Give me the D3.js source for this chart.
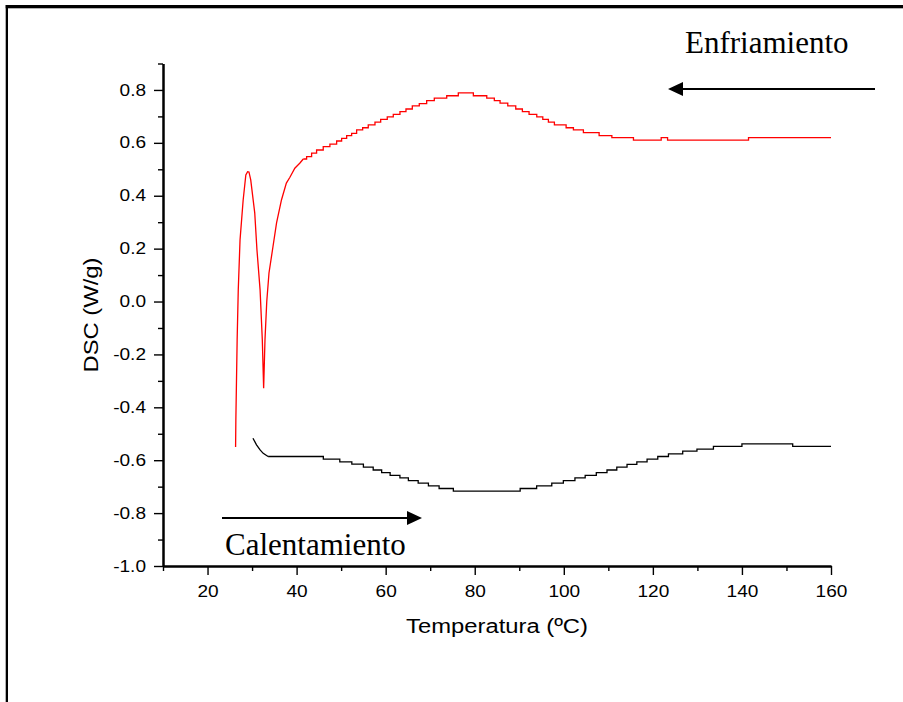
<!DOCTYPE html>
<html>
<head>
<meta charset="utf-8">
<script src="https://cdn.jsdelivr.net/npm/d3@7"></script>
<style>
  body { margin: 0; background: #fff; }
  svg { display: block; }
</style>
</head>
<body>
<svg id="canvas" width="903" height="702"></svg>
<script>
// tick values
let xTicks = [20, 40, 60, 80, 100, 120, 140, 160]
let xMinor = [10, 30, 50, 70, 90, 110, 130, 150]
let yTicks = [-1.0, -0.8, -0.6, -0.4, -0.2, 0.0, 0.2, 0.4, 0.6, 0.8]
let yMinor = [-0.9, -0.7, -0.5, -0.3, -0.1, 0.1, 0.3, 0.5, 0.7, 0.9]

// enfriamiento (red) - smooth part of the peak, [T, W/g]
let coolPeak = [
  [26.3, -0.55], [26.36, -0.448], [26.65, -0.145], [26.9, 0.044], [27.3, 0.233],
  [28.0, 0.384], [28.6, 0.479], [29.0, 0.491], [29.3, 0.49], [29.7, 0.46],
  [30.6, 0.335], [31.1, 0.195], [31.8, 0.044], [32.3, -0.145], [32.6, -0.328],
  [32.9, -0.145], [33.3, 0.0], [33.8, 0.108], [34.7, 0.208], [35.5, 0.297],
  [36.6, 0.384], [37.7, 0.448], [38.5, 0.47], [39.6, 0.504], [40.7, 0.523],
  [41.5, 0.539]
]
// enfriamiento (red) - stepped part
let coolSteps = [
  [41.5, 0.539], [42.25, 0.548], [43.37, 0.561], [44.49, 0.573], [45.98, 0.586],
  [47.48, 0.595], [48.99, 0.607], [50.11, 0.617], [51.24, 0.627], [52.36, 0.636],
  [53.48, 0.649], [54.83, 0.657], [56.09, 0.668], [57.6, 0.678], [58.88, 0.689],
  [60.36, 0.698], [61.71, 0.708], [63.21, 0.718], [64.56, 0.728], [65.98, 0.74],
  [67.55, 0.748], [69.21, 0.76], [70.92, 0.769], [73.71, 0.778], [76.31, 0.789],
  [79.69, 0.778], [82.7, 0.769], [84.4, 0.76], [85.69, 0.75], [87.42, 0.74],
  [89.21, 0.728], [90.7, 0.718], [92.2, 0.708], [93.93, 0.698], [95.28, 0.689],
  [96.54, 0.678], [97.89, 0.668], [100.52, 0.657], [102.16, 0.649], [104.4, 0.639],
  [107.93, 0.627], [110.79, 0.62], [115.64, 0.61], [121.87, 0.62], [123.3, 0.61],
  [141.48, 0.62], [160.0, 0.62]
]

// calentamiento (black) - start, then steps
let heatStart = [
  [30.2, -0.517], [31.0, -0.542], [31.8, -0.561], [32.5, -0.574], [33.6, -0.586]
]
let heatSteps = [
  [33.6, -0.586], [46.0, -0.596], [49.7, -0.606], [52.4, -0.615], [55.0, -0.626],
  [57.2, -0.637], [59.1, -0.647], [61.0, -0.657], [63.2, -0.667], [65.1, -0.677],
  [67.3, -0.687], [69.6, -0.697], [72.0, -0.707], [75.2, -0.717], [90.2, -0.707],
  [93.9, -0.697], [97.3, -0.687], [99.9, -0.677], [102.5, -0.667], [104.8, -0.657],
  [107.3, -0.647], [109.7, -0.637], [111.9, -0.626], [114.2, -0.616], [116.4, -0.606],
  [118.7, -0.596], [121.1, -0.586], [123.5, -0.576], [126.7, -0.566], [129.9, -0.558],
  [133.6, -0.548], [140.0, -0.538], [151.4, -0.548], [160.0, -0.548]
]

let canvas = d3.select("#canvas")

let xScale = d3.scaleLinear().domain([10, 160]).range([163, 831])
let yScale = d3.scaleLinear().domain([-1.0, 0.9]).range([566, 63.5])

// frame (top and left only)
canvas.append("rect").attr("x", 5.7).attr("y", 5).attr("width", 897.3).attr("height", 3.3).attr("fill", "#000")
canvas.append("rect").attr("x", 5.7).attr("y", 5).attr("width", 2.3).attr("height", 697).attr("fill", "#000")

let labelFont = "Arial, 'Liberation Sans', sans-serif"
let stretch = 1.19 // the sans text in the original is drawn wider than plain Arial

let xAxis = d3.axisBottom(xScale).tickValues(xTicks).tickSize(9).tickSizeOuter(0).tickPadding(11)
  .tickFormat(d => d)
let xAxisMinor = d3.axisBottom(xScale).tickValues(xMinor).tickSize(5).tickSizeOuter(0).tickFormat("")
let yAxis = d3.axisLeft(yScale).tickValues(yTicks).tickSize(9).tickSizeOuter(0).tickPadding(8)
  .tickFormat(d => d.toFixed(1))
let yAxisMinor = d3.axisLeft(yScale).tickValues(yMinor).tickSize(5).tickSizeOuter(0).tickFormat("")

let drawAxis = (axis, transform) => {
  let g = canvas.append("g").attr("transform", transform).call(axis)
  g.select(".domain").attr("stroke", "#000").attr("stroke-width", 2)
  g.selectAll(".tick line").attr("stroke", "#000").attr("stroke-width", 1.4)
  g.selectAll(".tick text")
    .attr("fill", "#000")
    .style("font-family", labelFont)
    .style("font-size", "16px")
    .each(function () {
      let t = d3.select(this)
      let tx = +t.attr("x") || 0
      t.attr("x", 0).attr("transform", `translate(${tx},0) scale(${stretch},1)`)
    })
  return g
}

drawAxis(xAxisMinor, "translate(0,566)")
drawAxis(xAxis, "translate(0,566)")
drawAxis(yAxisMinor, "translate(163,0)")
drawAxis(yAxis, "translate(163,0)")

// axis titles
canvas.append("text")
  .attr("transform", `translate(497,633) scale(${stretch},1)`)
  .attr("text-anchor", "middle")
  .style("font-family", labelFont)
  .style("font-size", "20px")
  .text("Temperatura (ºC)")

canvas.append("text")
  .attr("transform", `translate(98,315) rotate(-90) scale(${stretch},1)`)
  .attr("text-anchor", "middle")
  .style("font-family", labelFont)
  .style("font-size", "20px")
  .text("DSC (W/g)")

// curves
let smooth = d3.line().x(d => xScale(d[0])).y(d => yScale(d[1]))
let stepped = d3.line().x(d => xScale(d[0])).y(d => yScale(d[1])).curve(d3.curveStepAfter)

canvas.append("path").attr("d", smooth(coolPeak)).attr("fill", "none").attr("stroke", "#ff0000").attr("stroke-width", 1.3)
canvas.append("path").attr("d", stepped(coolSteps)).attr("fill", "none").attr("stroke", "#ff0000").attr("stroke-width", 1.3)
canvas.append("path").attr("d", smooth(heatStart)).attr("fill", "none").attr("stroke", "#000").attr("stroke-width", 1.3)
canvas.append("path").attr("d", stepped(heatSteps)).attr("fill", "none").attr("stroke", "#000").attr("stroke-width", 1.3)

// annotations with arrows
let drawArrow = (x1, x2, y) => {
  let dir = x2 > x1 ? 1 : -1
  canvas.append("line")
    .attr("x1", x1).attr("x2", x2 - dir * 12).attr("y1", y).attr("y2", y)
    .attr("stroke", "#000").attr("stroke-width", 2)
  canvas.append("path")
    .attr("d", `M${x2},${y} L${x2 - dir * 15},${y - 7} L${x2 - dir * 15},${y + 7} Z`)
    .attr("fill", "#000")
}

drawArrow(875, 668, 89)
drawArrow(222, 422, 518)

let serif = "'Times New Roman', 'Liberation Serif', serif"
canvas.append("text").attr("x", 685).attr("y", 53)
  .style("font-family", serif).style("font-size", "31px").text("Enfriamiento")
canvas.append("text").attr("x", 225).attr("y", 555)
  .style("font-family", serif).style("font-size", "31px").text("Calentamiento")
</script>
</body>
</html>
